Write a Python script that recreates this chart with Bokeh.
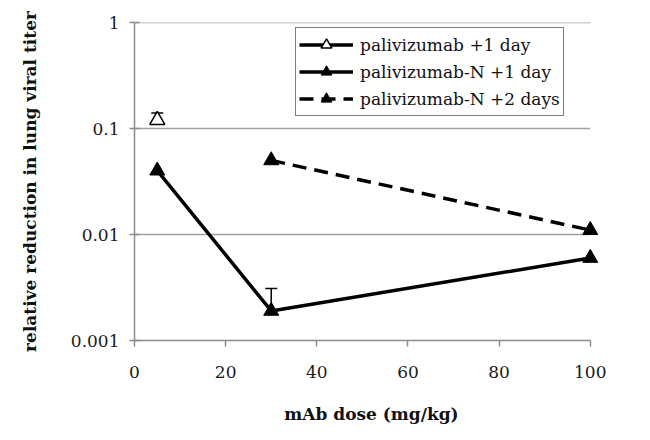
from bokeh.plotting import figure
from bokeh.models import (ColumnDataSource, Whisker, TeeHead, FixedTicker,
                          CustomJSTickFormatter, Legend, LegendItem, Range1d)
from bokeh.embed import file_html
from bokeh.resources import INLINE

# Data
pali_x = [5]
pali_y = [0.12]
pali_err_top = [0.14]

paliN1_x = [5, 30, 100]
paliN1_y = [0.04, 0.0019, 0.006]
paliN1_err_x = [30]
paliN1_err_base = [0.0019]
paliN1_err_top = [0.0031]

paliN2_x = [30, 100]
paliN2_y = [0.05, 0.011]

x_ticks = [0, 20, 40, 60, 80, 100]
y_ticks = [0.001, 0.01, 0.1, 1]

FONT = "DejaVu Serif"

p = figure(width=634, height=432, output_backend="svg", toolbar_location=None,
           y_axis_type="log", x_range=Range1d(0, 104), y_range=Range1d(0.001, 1),
           min_border_left=134, min_border_top=22, min_border_right=26,
           min_border_bottom=92)
p.outline_line_color = None
p.xgrid.visible = False
p.ygrid.visible = False

# horizontal gridlines spanning the x-axis extent only
p.segment(x0=[x_ticks[0]] * 3, x1=[x_ticks[-1]] * 3, y0=y_ticks[1:], y1=y_ticks[1:],
          line_color="#a0a0a0", line_width=1.5, level="underlay")

p.xaxis.ticker = FixedTicker(ticks=x_ticks)
p.xaxis.bounds = (x_ticks[0], x_ticks[-1])
p.yaxis.ticker = FixedTicker(ticks=y_ticks)
p.yaxis.formatter = CustomJSTickFormatter(code="return String(tick)")
for ax in (p.xaxis, p.yaxis):
    ax.axis_line_color = "#8c8c8c"
    ax.axis_line_width = 1.5
    ax.major_tick_line_color = "#8c8c8c"
    ax.major_tick_line_width = 1.5
    ax.major_tick_in = 5
    ax.major_tick_out = 5
    ax.minor_tick_line_color = None
    ax.major_label_text_font = FONT
    ax.major_label_text_font_size = "17px"
    ax.major_label_text_color = "#1a1a1a"
    ax.axis_label_text_font = FONT
    ax.axis_label_text_font_size = "17px"
    ax.axis_label_text_font_style = "bold"
    ax.axis_label_text_color = "#111111"
p.xaxis.major_tick_in = 0
p.xaxis.major_tick_out = 6
p.xaxis.major_label_standoff = 19
p.xaxis.axis_label_standoff = 23
p.yaxis.major_label_standoff = 10
p.yaxis.axis_label_standoff = 28
p.xaxis.axis_label = "mAb dose (mg/kg)"
p.yaxis.axis_label = "relative reduction in lung viral titer"

# Error bars
src_e1 = ColumnDataSource(dict(x=pali_x, base=pali_y, top=pali_err_top))
p.add_layout(Whisker(source=src_e1, base="x", lower="base", upper="top",
                     line_color="black", line_width=1.5,
                     upper_head=TeeHead(size=12, line_color="black", line_width=1.5),
                     lower_head=None))
src_e2 = ColumnDataSource(dict(x=paliN1_err_x, base=paliN1_err_base, top=paliN1_err_top))
p.add_layout(Whisker(source=src_e2, base="x", lower="base", upper="top",
                     line_color="black", line_width=1.5,
                     upper_head=TeeHead(size=12, line_color="black", line_width=1.5),
                     lower_head=None))

# Series
l0 = p.line(pali_x, pali_y, line_color="black", line_width=3.5)
m0 = p.scatter(pali_x, pali_y, marker="triangle", size=15, fill_color="white",
               line_color="black", line_width=1.5)
l1 = p.line(paliN1_x, paliN1_y, line_color="black", line_width=3.5)
m1 = p.scatter(paliN1_x, paliN1_y, marker="triangle", size=15, fill_color="black",
               line_color="black")
l2 = p.line(paliN2_x, paliN2_y, line_color="black", line_width=3.5, line_dash="14 8")
m2 = p.scatter(paliN2_x, paliN2_y, marker="triangle", size=15, fill_color="black",
               line_color="black")

legend = Legend(items=[
    LegendItem(label="palivizumab +1 day", renderers=[l0, m0]),
    LegendItem(label="palivizumab-N +1 day", renderers=[l1, m1]),
    LegendItem(label="palivizumab-N +2 days", renderers=[l2, m2]),
], location=(161, 224))
legend.label_text_font = FONT
legend.label_text_font_size = "17px"
legend.label_text_color = "#111111"
legend.border_line_color = "black"
legend.border_line_width = 1.5
legend.background_fill_alpha = 1
legend.glyph_width = 54
legend.glyph_height = 27
legend.spacing = 0
legend.padding = 3
legend.margin = 0
legend.label_standoff = 7
p.add_layout(legend, "center")

open("out.html", "w").write(file_html(p, INLINE))
